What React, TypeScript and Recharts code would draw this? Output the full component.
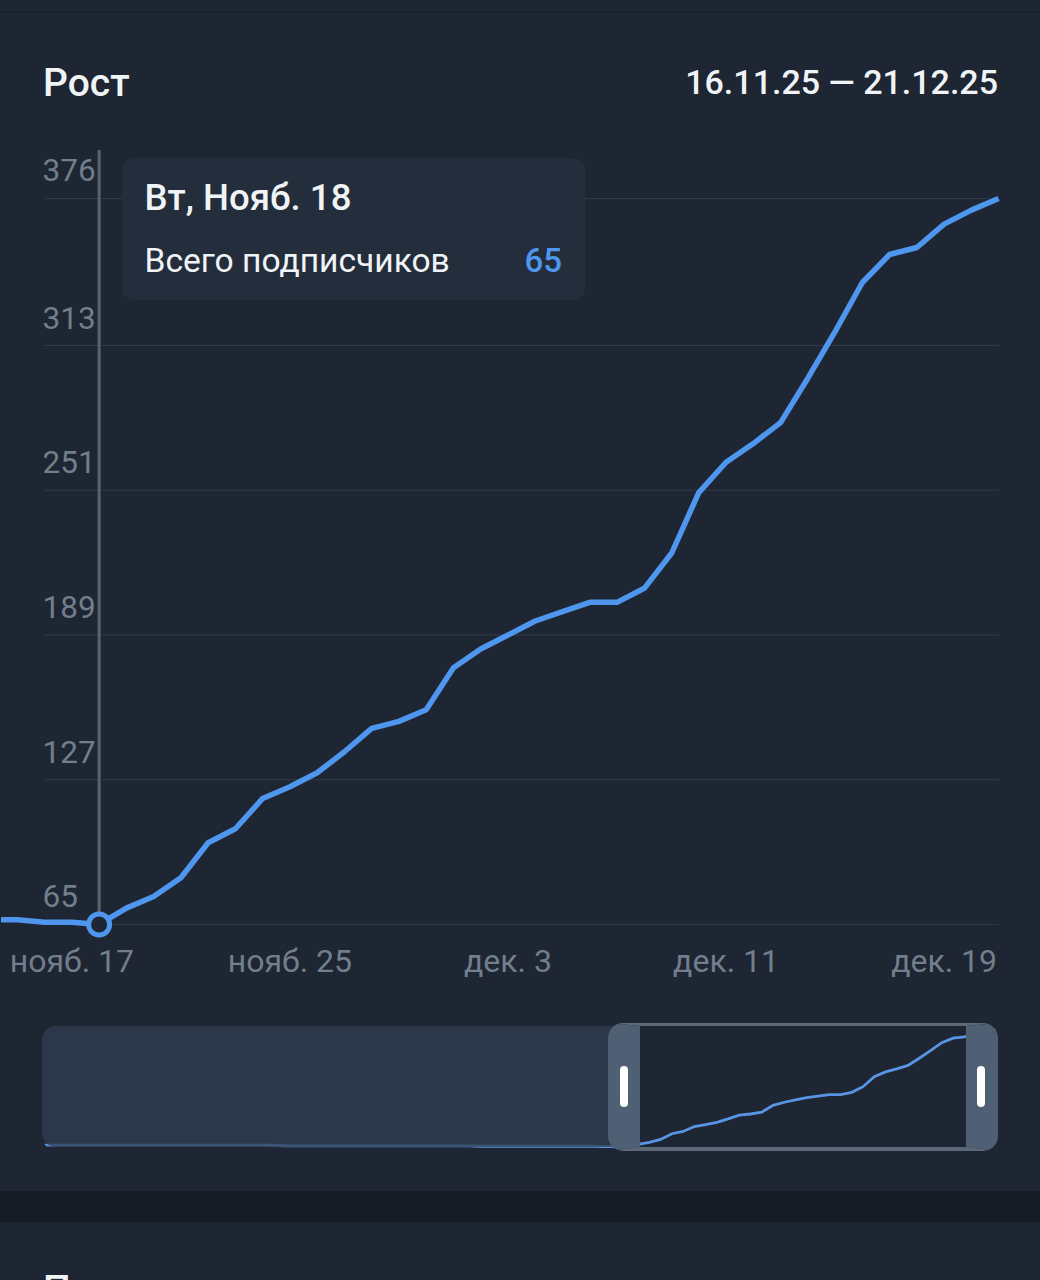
import React from "react";
import { LineChart, Line, XAxis, YAxis, Tooltip, ReferenceLine } from "recharts";

// day index 0 = 14 Nov, last = 21 Dec
const dayLabels = [
  "нояб. 14","нояб. 15","нояб. 16","нояб. 17","нояб. 18","нояб. 19","нояб. 20","нояб. 21","нояб. 22","нояб. 23",
  "нояб. 24","нояб. 25","нояб. 26","нояб. 27","нояб. 28","нояб. 29","нояб. 30","дек. 1","дек. 2","дек. 3",
  "дек. 4","дек. 5","дек. 6","дек. 7","дек. 8","дек. 9","дек. 10","дек. 11","дек. 12","дек. 13",
  "дек. 14","дек. 15","дек. 16","дек. 17","дек. 18","дек. 19","дек. 20","дек. 21",
];
const subscribers = [
  67, 67, 66, 66, 65, 72, 77, 85, 100, 106,
  119, 124, 130, 139, 149, 152, 157, 175, 183, 189,
  195, 199, 203, 203, 209, 224, 250, 263, 271, 280,
  299, 319, 340, 352, 355, 365, 371, 376,
];
// overview line: days before the values above
const earlierSubscribers = [
  70, 70, 70, 70, 70, 70, 70, 70, 70, 70, 70, 70,
  70, 70, 70, 70, 70, 70, 70, 70, 70, 69, 68, 68,
  68, 68, 68, 68, 68, 68, 68, 68, 68, 68, 68, 68,
  68, 68, 68, 67, 67, 67, 67, 67, 67, 67, 67, 67,
];
const xTickDays = [3, 11, 19, 27, 35];
const yTicks = [65, 127, 189, 251, 313, 376];
const selectedDay = 4;
const tooltipTitle = "Вт, Нояб. 18";
const seriesName = "Всего подписчиков";
const chartTitle = "Рост";
const rangeText = "16.11.25 — 21.12.25";
const nextTitle = "П";
const nextRangeText = "22.11.25 — 21.12.25";

const mainData = subscribers.map((value, day) => ({ day, value }));
const overviewData = [...earlierSubscribers, ...subscribers].map((value, day) => ({ day, value }));

const BG = "#1d2632";
const BLUE = "#4f96ee";
const AXIS = "#727e8c";
const FONT = "Roboto, sans-serif";
const Y_MAX = 396.76;
const Y_MIN = 58.35;

const XTick = (p: any) => (
  <text x={p.x} y={p.y + 24} textAnchor="middle" fontFamily={FONT} fontSize={32} fill={AXIS}>
    {dayLabels[p.payload.value]}
  </text>
);
const YTick = (p: any) => (
  <text x={42.5} y={p.y - 17} textAnchor="start" fontFamily={FONT} fontSize={31.5} fill={AXIS}>
    {p.payload.value}
  </text>
);

const TooltipBox = ({ payload }: any) => {
  const value = payload && payload.length ? payload[0].value : "";
  return (
    <div
      style={{
        width: 463,
        height: 142,
        boxSizing: "border-box",
        background: "#232d3b",
        borderRadius: 12,
        padding: "20px 23px 0 22.5px",
        fontFamily: FONT,
        color: "#f1f4f6",
      }}
    >
      <div style={{ fontSize: 36.6, fontWeight: 500, lineHeight: "40px" }}>{tooltipTitle}</div>
      <div style={{ display: "flex", justifyContent: "space-between", marginTop: 23, fontSize: 33.6, lineHeight: "40px" }}>
        <span>{seriesName}</span>
        <span style={{ color: BLUE, fontWeight: 500, fontSize: 33 }}>{value}</span>
      </div>
    </div>
  );
};

const abs = (s: any): any => ({ position: "absolute", ...s });

export default function App() {
  return (
    <div style={abs({ position: "fixed", left: 0, top: 0, width: 1040, height: 1280, overflow: "hidden", background: BG, fontFamily: FONT })}>
      <div style={abs({ left: 0, top: 11, width: 1040, height: 2, background: "#19212b" })} />
      <div style={abs({ left: 43, top: 61, fontSize: 39, fontWeight: 500, color: "#f1f4f6", lineHeight: "44px" })}>{chartTitle}</div>
      <div style={abs({ right: 42, top: 60, fontSize: 34, fontWeight: 500, color: "#f1f4f6", lineHeight: "44px" })}>{rangeText}</div>

      <div style={abs({ left: 0, top: 0 })}>
        <LineChart width={1040} height={1000} data={mainData} margin={{ top: 150, right: 40, bottom: 0, left: 0 }}>
          <XAxis
            dataKey="day"
            type="number"
            domain={[0.4, 37.05]}
            allowDataOverflow
            ticks={xTickDays}
            tick={XTick}
            axisLine={false}
            tickLine={false}
            height={60}
            interval={0}
          />
          <YAxis
            type="number"
            domain={[Y_MIN, Y_MAX]}
            ticks={yTicks}
            tick={YTick}
            axisLine={false}
            tickLine={false}
            width={1}
            interval={0}
          />
          {yTicks.map((t) => (
            <ReferenceLine key={t} segment={[{ x: 2, y: t }, { x: 37, y: t }]} stroke="#323b47" strokeWidth={1} />
          ))}
          <ReferenceLine
            segment={[{ x: selectedDay, y: Y_MAX }, { x: selectedDay, y: 65 }]}
            stroke="#5a6470"
            strokeWidth={3}
          />
          <Line
            dataKey="value"
            stroke={BLUE}
            strokeWidth={5.5}
            dot={false}
            activeDot={{ r: 10.5, fill: BG, stroke: BLUE, strokeWidth: 5 }}
            isAnimationActive={false}
            strokeLinejoin="round"
          />
          <Tooltip
            active
            defaultIndex={selectedDay}
            position={{ x: 122, y: 158 }}
            cursor={false}
            isAnimationActive={false}
            content={TooltipBox}
            wrapperStyle={{ outline: "none" }}
          />
        </LineChart>
      </div>

      <div style={abs({ left: 42, top: 1023, width: 956, height: 128, overflow: "hidden", borderRadius: 15 })}>
        <div style={abs({ left: -42, top: -3 })}>
          <LineChart width={1040} height={140} data={overviewData} margin={{ top: 0, right: 42, bottom: 0, left: 42 }}>
            <XAxis dataKey="day" type="number" domain={[0, 85]} hide />
            <YAxis type="number" domain={[30.8, 399.7]} hide width={0} />
            <Line dataKey="value" stroke="#5a94e4" strokeWidth={2.8} dot={false} activeDot={false} isAnimationActive={false} />
          </LineChart>
        </div>
      </div>

      <div style={abs({ left: 42, top: 1026, width: 580, height: 121, borderRadius: "14px 0 0 14px", background: "rgba(50,64,81,0.74)" })} />
      <div
        style={abs({
          left: 608,
          top: 1023,
          width: 390,
          height: 128,
          boxSizing: "border-box",
          borderStyle: "solid",
          borderWidth: "3px 32px 4px 32px",
          borderColor: "#5b6878 #4f6074 #5b6878 #4f6074",
          borderRadius: 15,
        })}
      />
      <div style={abs({ left: 620, top: 1066, width: 8, height: 41, borderRadius: 4, background: "#fff" })} />
      <div style={abs({ left: 977, top: 1066, width: 8, height: 41, borderRadius: 4, background: "#fff" })} />

      <div style={abs({ left: 0, top: 1191, width: 1040, height: 31, background: "#161c26" })} />
      <div style={abs({ left: 43, top: 1268, fontSize: 39, fontWeight: 500, color: "#f1f4f6", lineHeight: "44px" })}>{nextTitle}</div>
      <div style={abs({ right: 42, top: 1270, fontSize: 34, fontWeight: 500, color: "#f1f4f6", lineHeight: "44px" })}>{nextRangeText}</div>
    </div>
  );
}
